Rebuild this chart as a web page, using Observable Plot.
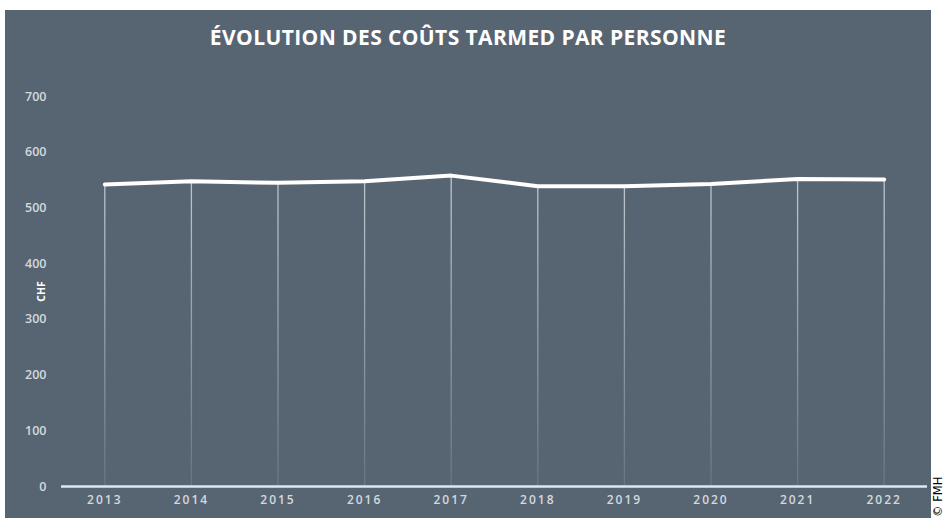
<!DOCTYPE html>
<html>
<head>
<meta charset="utf-8">
<script src="https://cdn.jsdelivr.net/npm/d3@7"></script>
<script src="https://cdn.jsdelivr.net/npm/@observablehq/plot@0.6"></script>
<style>
  html, body { margin: 0; padding: 0; background: #ffffff; width: 945px; height: 518px; overflow: hidden; }
  #panel { position: absolute; left: 5px; top: 10px; width: 926px; height: 508px; background: #576573; }
  #title { height: 55px; line-height: 54px; text-align: center; color: #ffffff; font-family: "Open Sans", sans-serif; font-weight: 700; font-size: 21px; letter-spacing: 0.4px; }
  #credit { position: absolute; left: 932px; top: 517px; transform: rotate(-90deg); transform-origin: 0 0; font-family: "DejaVu Sans", sans-serif; font-size: 11.5px; color: #000; white-space: nowrap; line-height: 12px; }
</style>
</head>
<body>
<div id="panel"><div id="title">ÉVOLUTION DES COÛTS TARMED PAR PERSONNE</div><div id="chart"></div></div>
<div id="credit">© FMH</div>
<script>
const years = [2013, 2014, 2015, 2016, 2017, 2018, 2019, 2020, 2021, 2022];
const costs = [542, 548, 545, 548, 558, 539, 539, 543, 552, 551];
const yTicks = [0, 100, 200, 300, 400, 500, 600, 700];
const yLabel = "CHF";

const data = years.map((year, i) => ({year, cost: costs[i]}));

const plot = Plot.plot({
  width: 926,
  height: 453,
  marginLeft: 56,
  marginRight: 4,
  marginTop: 31,
  marginBottom: 32,
  style: {background: "transparent", color: "#d3d9df", fontFamily: "'Open Sans', sans-serif", fontSize: "12px", fontWeight: "600"},
  x: {domain: [2012.5, 2022.5], axis: null},
  y: {domain: [0, 700], axis: null},
  marks: [
    Plot.ruleX(data, {x: "year", y1: 0, y2: "cost", stroke: "url(#fade)", strokeWidth: 1.3}),
    Plot.ruleY([0], {stroke: "#dfe6ee", strokeWidth: 2.5}),
    Plot.axisY(yTicks, {tickSize: 0, tickPadding: 15, label: null, fill: "#d3d9df", fontWeight: 600, fontSize: 12.5}),
    Plot.axisX(years, {tickSize: 0, tickPadding: 9, tickFormat: d => String(d), label: null, fill: "#d3d9df", fontWeight: 600}),
    Plot.text([yLabel], {frameAnchor: "left", text: d => d, rotate: -90, textAnchor: "middle", dx: -20, fill: "#ffffff", fontWeight: 700, fontSize: 10.5}),
    Plot.line(data, {x: "year", y: "cost", stroke: "#ffffff", strokeWidth: 4, strokeLinecap: "round", strokeLinejoin: "round"})
  ]
});

const svg = d3.select(plot);
const defs = svg.insert("defs", ":first-child");
const grad = defs.append("linearGradient").attr("id", "fade").attr("gradientUnits", "userSpaceOnUse")
  .attr("x1", 0).attr("x2", 0).attr("y1", 31).attr("y2", 421);
grad.append("stop").attr("offset", "0%").attr("stop-color", "#e4e9ee").attr("stop-opacity", 0.9);
grad.append("stop").attr("offset", "100%").attr("stop-color", "#e4e9ee").attr("stop-opacity", 0.12);
svg.selectAll("g[aria-label='x-axis tick label'] text").attr("letter-spacing", "2px");

document.getElementById("chart").appendChild(plot);
</script>
</body>
</html>
